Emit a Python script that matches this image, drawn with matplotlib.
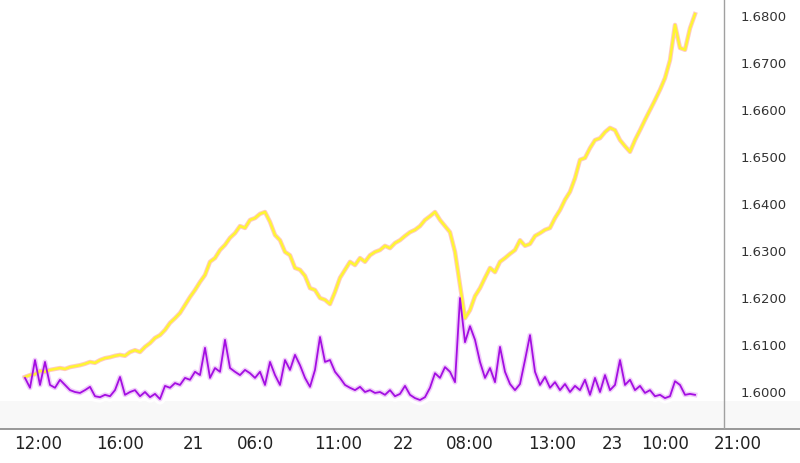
import numpy as np
import matplotlib
matplotlib.use("Agg")
import matplotlib.pyplot as plt

# Price (yellow line), one sample per time step
price = [1.6032, 1.6036, 1.6038, 1.6045, 1.6043, 1.6047, 1.6049, 1.6051, 1.6049, 1.6053,
         1.6055, 1.6057, 1.6060, 1.6064, 1.6062, 1.6068, 1.6072, 1.6074, 1.6077, 1.6079,
         1.6077, 1.6085, 1.6089, 1.6085, 1.6096, 1.6104, 1.6115, 1.6121, 1.6132, 1.6147,
         1.6157, 1.6168, 1.6185, 1.6202, 1.6217, 1.6234, 1.6249, 1.6277, 1.6285, 1.6302,
         1.6313, 1.6328, 1.6338, 1.6353, 1.6349, 1.6366, 1.6370, 1.6379, 1.6383, 1.6362,
         1.6334, 1.6323, 1.6298, 1.6291, 1.6264, 1.6260, 1.6247, 1.6221, 1.6217, 1.6200,
         1.6196, 1.6187, 1.6213, 1.6243, 1.6260, 1.6277, 1.6270, 1.6285, 1.6277, 1.6291,
         1.6298, 1.6302, 1.6311, 1.6306, 1.6317, 1.6323, 1.6332, 1.6340, 1.6345, 1.6353,
         1.6366, 1.6374, 1.6383, 1.6366, 1.6353, 1.6340, 1.6298, 1.6228, 1.6157, 1.6174,
         1.6204, 1.6221, 1.6243, 1.6264, 1.6255, 1.6277, 1.6285, 1.6294, 1.6302, 1.6323,
         1.6311, 1.6315, 1.6332, 1.6338, 1.6345, 1.6349, 1.6370, 1.6387, 1.6409, 1.6426,
         1.6455, 1.6494, 1.6498, 1.6519, 1.6536, 1.6540, 1.6553, 1.6562, 1.6557, 1.6536,
         1.6523, 1.6511, 1.6536, 1.6557, 1.6579, 1.6600, 1.6621, 1.6643, 1.6668, 1.6706,
         1.6781, 1.6732, 1.6728, 1.6774, 1.6804]

# Volume-like indicator (purple line), same time steps
indicator = [1.6030, 1.6009, 1.6068, 1.6015, 1.6064, 1.6015, 1.6009, 1.6026, 1.6015, 1.6004,
             1.6000, 1.5998, 1.6004, 1.6011, 1.5991, 1.5989, 1.5994, 1.5991, 1.6004, 1.6032,
             1.5994, 1.6000, 1.6004, 1.5991, 1.6000, 1.5989, 1.5996, 1.5985, 1.6013, 1.6009,
             1.6019, 1.6015, 1.6030, 1.6026, 1.6043, 1.6036, 1.6094, 1.6030, 1.6051, 1.6043,
             1.6111, 1.6051, 1.6043, 1.6036, 1.6047, 1.6040, 1.6030, 1.6043, 1.6015, 1.6064,
             1.6036, 1.6015, 1.6068, 1.6047, 1.6079, 1.6057, 1.6030, 1.6011, 1.6047, 1.6117,
             1.6064, 1.6068, 1.6043, 1.6030, 1.6015, 1.6009, 1.6004, 1.6011, 1.6000, 1.6004,
             1.5998, 1.6000, 1.5994, 1.6004, 1.5991, 1.5996, 1.6013, 1.5994, 1.5987, 1.5983,
             1.5989, 1.6009, 1.6040, 1.6030, 1.6053, 1.6043, 1.6021, 1.6200, 1.6106, 1.6140,
             1.6111, 1.6064, 1.6030, 1.6051, 1.6021, 1.6096, 1.6043, 1.6017, 1.6004, 1.6017,
             1.6068, 1.6121, 1.6043, 1.6015, 1.6032, 1.6009, 1.6021, 1.6004, 1.6017, 1.6000,
             1.6013, 1.6004, 1.6026, 1.5994, 1.6030, 1.6000, 1.6036, 1.6004, 1.6015, 1.6068,
             1.6015, 1.6026, 1.6004, 1.6013, 1.5998, 1.6004, 1.5991, 1.5994, 1.5987, 1.5991,
             1.6023, 1.6015, 1.5994, 1.5996, 1.5994]

# x-axis tick positions (time-step index) and labels
x_tick_pos = [2.6, 19.0, 33.6, 46.0, 62.6, 75.6, 89.0, 105.4, 117.4, 128.0, 142.6]
x_tick_labels = ["12:00", "16:00", "21", "06:0", "11:00", "22", "08:00", "13:00", "23", "10:00", "21:00"]

y_ticks = [1.6000, 1.6100, 1.6200, 1.6300, 1.6400, 1.6500, 1.6600, 1.6700, 1.6800]
y_tick_labels = ["1.6000", "1.6100", "1.6200", "1.6300", "1.6400", "1.6500", "1.6600", "1.6700", "1.6800"]

fig = plt.figure(figsize=(8.0, 4.63), dpi=100)
ax = fig.add_axes([0, 34 / 463, 1, 429 / 463])
ax.set_xlim(-5, 155)
ax.set_ylim(1.59213, 1.68340)

# very faint grey band at bottom
ax.axhspan(1.59213, 1.5980, color="#f8f8f8", zorder=0, lw=0)

t_p = np.arange(len(price))
t_i = np.arange(len(indicator))

# price line with glow
ax.plot(t_p, price, color="white", lw=9, alpha=0.9, zorder=2, solid_capstyle="round")
ax.plot(t_p, price, color="#ffb4a8", lw=3.2, alpha=0.7, zorder=3)
ax.plot(t_p, price, color="#fff533", lw=1.8, zorder=4)

# indicator line with glow
ax.plot(t_i, indicator, color="white", lw=8, alpha=0.9, zorder=2)
ax.plot(t_i, indicator, color="#e6a8f8", lw=3.5, alpha=0.6, zorder=3)
ax.plot(t_i, indicator, color="#a30ee2", lw=1.3, zorder=4)

# right separator line
ax.axvline(139.8, color="#a0a0a0", lw=1.0, zorder=5)

for s in ["top", "left", "right"]:
    ax.spines[s].set_visible(False)
ax.spines["bottom"].set_color("#888888")
ax.spines["bottom"].set_linewidth(1.2)

ax.set_xticks(x_tick_pos)
ax.set_xticklabels(x_tick_labels, fontsize=12, color="#222222")
ax.tick_params(axis="x", length=0, pad=4)

ax.yaxis.tick_right()
ax.set_yticks(y_ticks)
ax.set_yticklabels(y_tick_labels, fontsize=9.5, color="#333333")
ax.tick_params(axis="y", length=0, pad=-43)
for lbl in ax.get_yticklabels():
    lbl.set_horizontalalignment("left")

fig.savefig("out.png", dpi=100, facecolor="white")
